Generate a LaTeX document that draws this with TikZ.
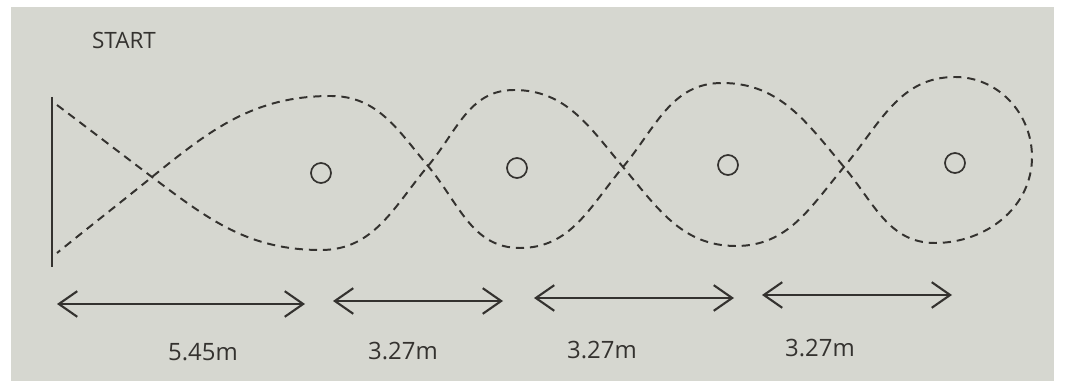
\documentclass[tikz,border=0pt]{standalone}
\usepackage{fontspec}
\setmainfont{Open Sans}
\usetikzlibrary{arrows.meta}
\definecolor{paper}{RGB}{214,215,208}
\definecolor{ink}{RGB}{52,50,47}
\begin{document}
\begin{tikzpicture}[x=0.025cm,y=0.025cm,
	cone/.style={circle,draw=ink,line width=1.2pt,minimum size=0.5cm,inner sep=0pt},
	route/.style={draw=ink,line width=1.4pt,dash pattern=on 5.8pt off 4.2pt},
	span/.style={draw=ink,line width=1.5pt,{Straight Barb[length=4.6mm,width=6.4mm]}-{Straight Barb[length=4.6mm,width=6.4mm]}},
	dist/.style={text=ink,font=\fontsize{17}{20}\selectfont,inner sep=0pt}]
	\useasboundingbox (0,0) rectangle (1067,381);
	\fill[white] (0,0) rectangle (1067,381);
	\fill[paper] (11,0) rectangle (1054,374);
	\path
	(124,341) node[text=ink,font=\fontsize{16}{19}\selectfont,inner sep=0pt](start){START}
	(321,208) node[cone](cone1){}
	(517,213) node[cone](cone2){}
	(728,216) node[cone](cone3){}
	(955,218) node[cone](cone4){}
	(203,29) node[dist](l1){5.45m}
	(403,30) node[dist](l2){3.27m}
	(602,31) node[dist](l3){3.27m}
	(820,33) node[dist](l4){3.27m}
	;
	\coordinate (lineT) at (52,284);
	\coordinate (lineB) at (52,114);
	\coordinate (s1) at (57,276);
	\coordinate (s2) at (57,128);
	\coordinate (x0) at (152,204);
	\coordinate (t1) at (331,285);
	\coordinate (b1) at (321,131);
	\coordinate (x1) at (428,215);
	\coordinate (t2) at (514,291);
	\coordinate (b2) at (520,133);
	\coordinate (x2) at (623,214);
	\coordinate (t3) at (722,298);
	\coordinate (b3) at (736,135);
	\coordinate (x3) at (844,214);
	\coordinate (t4) at (955,304);
	\coordinate (r4) at (1032,224);
	\coordinate (b4) at (935,138);
	\draw[ink,line width=2.1pt] (lineT)--(lineB);
	\draw[route] (s1) to[out=-37,in=143] (x0) to[out=-37,in=180] (b1)
		to[out=0,in=-130] (x1) to[out=50,in=180] (t2) to[out=0,in=130] (x2)
		to[out=-50,in=180] (b3) to[out=0,in=-130] (x3) to[out=50,in=180] (t4)
		to[out=0,in=90] (r4) to[out=-90,in=0] (b4) to[out=180,in=-50] (x3)
		to[out=130,in=0] (t3) to[out=180,in=50] (x2) to[out=-130,in=0] (b2)
		to[out=180,in=-50] (x1) to[out=130,in=0] (t1) to[out=180,in=39] (x0)
		to[out=-141,in=39] (s2);
	\coordinate (d1a) at (57,77);
	\coordinate (d1b) at (305,77);
	\coordinate (d2a) at (333,80);
	\coordinate (d2b) at (503,80);
	\coordinate (d3a) at (534,83);
	\coordinate (d3b) at (734,83);
	\coordinate (d4a) at (762,86);
	\coordinate (d4b) at (952,86);
	\draw[span] (d1a)--(d1b);
	\draw[span] (d2a)--(d2b);
	\draw[span] (d3a)--(d3b);
	\draw[span] (d4a)--(d4b);
\end{tikzpicture}
\end{document}
